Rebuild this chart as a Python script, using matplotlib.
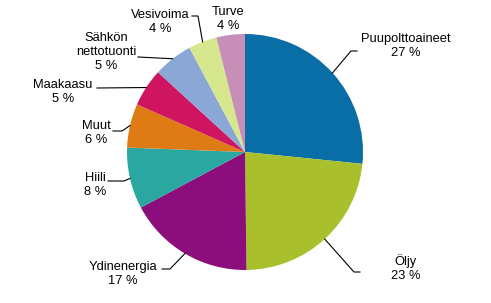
import matplotlib
matplotlib.use("Agg")
import matplotlib.pyplot as plt
import numpy as np

categories = ["Puupolttoaineet", "Öljy", "Ydinenergia", "Hiili", "Muut",
              "Maakaasu", "Sähkön\nnettotuonti", "Vesivoima", "Turve"]
values = [26.6, 23.2, 17.4, 8.4, 6.0, 5.2, 5.4, 3.9, 3.9]
colors = ["#0a6ea6", "#a9bf2b", "#8c0d7c", "#2aa7a0", "#df7b14",
          "#d01560", "#8aa7d6", "#d6e78e", "#c78fb8"]

# label text centre (pixel coords, origin top-left) and leader path points
label_pos = [(406, 46), (406, 268), (123, 274), (95, 185), (96, 133),
             (63, 92), (106, 52), (160, 22), (228, 19)]
leader_pts = [[(351, 51), (357, 51)],
              [(354, 272), (360, 272)],
              [(170, 269), (162, 269)],
              [(124, 181), (108, 181)],
              [(122, 131), (113, 131)],
              [(97, 88)],
              [(138, 57)],
              [(198, 16), (192, 16)],
              None]

W, H = 491, 303
fig = plt.figure(figsize=(W / 100, H / 100), dpi=100)
ax = fig.add_axes([0, 0, 1, 1])

cx, cy, r = 245, H - 152, 118
wedges, _ = ax.pie(values, colors=colors, startangle=90, counterclock=False,
                   center=(cx, cy), radius=r, frame=True,
                   wedgeprops=dict(linewidth=0))
ax.set_xlim(0, W)
ax.set_ylim(0, H)
ax.set_aspect("equal")
ax.axis("off")

font = dict(family=["Liberation Sans", "DejaVu Sans"], size=9.3, color="#000000")
for w, cat, v, pos, pts in zip(wedges, categories, values, label_pos, leader_pts):
    ang = np.deg2rad((w.theta1 + w.theta2) / 2)
    sx, sy = cx + r * np.cos(ang), cy + r * np.sin(ang)
    if pts:
        xs = [sx] + [p[0] for p in pts]
        ys = [sy] + [H - p[1] for p in pts]
        ax.plot(xs, ys, color="#000000", lw=0.8)
    ax.text(pos[0], H - pos[1], f"{cat}\n{round(v)} %", ha="center", va="center",
            linespacing=1.2, **font)

fig.savefig("out.png", dpi=100)
